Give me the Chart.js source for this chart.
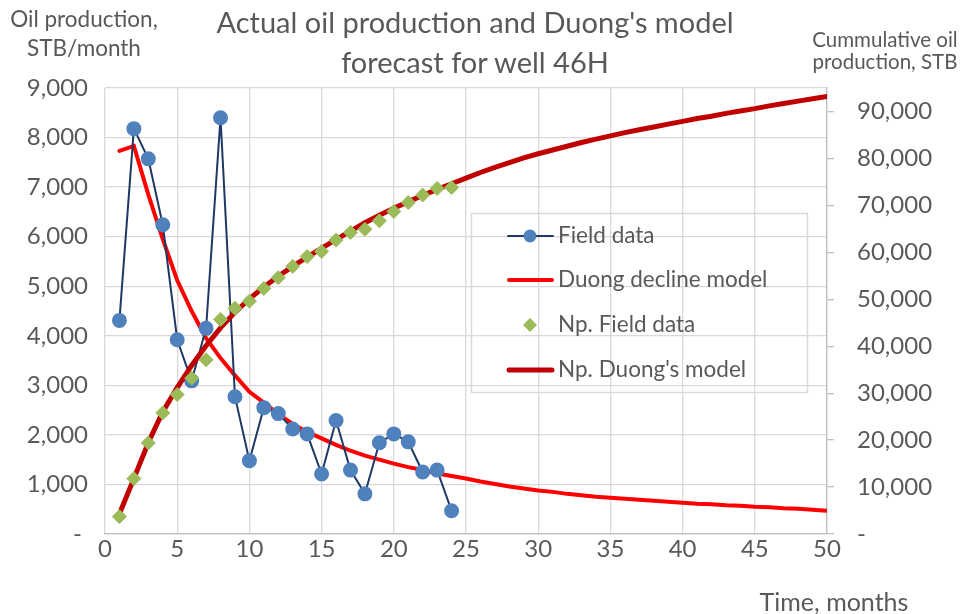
<!DOCTYPE html>
<html>
<head>
<meta charset="utf-8">
<script src="https://cdn.jsdelivr.net/npm/chart.js@4.4.1/dist/chart.umd.min.js"></script>
<style>
  html, body { margin: 0; padding: 0; background: #fff; }
  #wrap { position: relative; width: 962px; height: 614px; font-family: Lato, sans-serif; color: #595959; }
  #chart { position: absolute; left: 0; top: 0; }
  .lbl { position: absolute; text-align: center; white-space: nowrap; }
  #title { left: 125px; width: 700px; top: 2px; font-size: 29px; line-height: 40px; }
  #ytitle { left: 0; width: 168px; top: 4px; font-size: 22.5px; line-height: 29px; }
  #y2title { left: 804px; width: 162px; top: 28px; font-size: 20.5px; line-height: 22px; }
  #xtitle { left: 734px; width: 200px; top: 587px; font-size: 25px; line-height: 28px; }
</style>
</head>
<body>
<div id="wrap">
  <canvas id="chart" width="962" height="614"></canvas>
  <div class="lbl" id="title">Actual oil production and Duong's model<br>forecast for well 46H</div>
  <div class="lbl" id="ytitle">Oil production,<br>STB/month</div>
  <div class="lbl" id="y2title">Cummulative oil<br>production, STB</div>
  <div class="lbl" id="xtitle">Time, months</div>
</div>
<script>
// ---- data ----
const months = [1, 2, 3, 4, 5, 6, 7, 8, 9, 10, 11, 12, 13, 14, 15, 16, 17, 18, 19, 20,
                21, 22, 23, 24, 25, 26, 27, 28, 29, 30, 31, 32, 33, 34, 35, 36, 37, 38, 39, 40,
                41, 42, 43, 44, 45, 46, 47, 48, 49, 50];

// monthly oil rate, STB/month (left axis)
const fieldRate = [4310, 8180, 7570, 6240, 3920, 3090, 4150, 8400, 2770, 1480,
                   2550, 2430, 2120, 2020, 1210, 2290, 1290, 810, 1840, 2020,
                   1860, 1250, 1290, 470];
const duongRate = [7730, 7830, 6850, 5950, 5120, 4500, 3950, 3550, 3200, 2870,
                   2650, 2420, 2220, 2060, 1930, 1800, 1680, 1580, 1500, 1420,
                   1350, 1290, 1220, 1170, 1120, 1060, 1010, 960, 920, 880,
                   850, 810, 780, 750, 730, 710, 690, 670, 650, 630,
                   610, 600, 580, 570, 550, 540, 520, 510, 490, 470];

// cumulative production, STB (right axis)
const npField = [3700, 11800, 19400, 25800, 29700, 33200, 37100, 45700, 48100, 49600,
                 52300, 54600, 57000, 59100, 60200, 62600, 64200, 64900, 66700, 68700,
                 70600, 72200, 73600, 73800];
const npDuong = [4300, 11800, 19500, 26000, 31200, 35900, 40100, 43900, 47200, 50100,
                 52600, 54900, 57000, 59000, 60900, 62700, 64500, 66300, 67900, 69400,
                 70800, 72100, 73400, 74600, 75800, 77000, 78100, 79100, 80100, 81000,
                 81800, 82600, 83400, 84100, 84800, 85500, 86100, 86700, 87300, 87900,
                 88500, 89000, 89600, 90100, 90600, 91200, 91700, 92200, 92700, 93200];

const xTicks = [0, 5, 10, 15, 20, 25, 30, 35, 40, 45, 50];
const y2Ticks = [0, 10000, 20000, 30000, 40000, 50000, 60000, 70000, 80000, 90000];

const colors = {
    text: '#595959',
    grid: '#D9D9D9',
    axis: '#BFBFBF',
    navy: '#1F3864',
    blue: '#4F81BD',
    red: '#FF0000',
    green: '#9BBB59',
    darkRed: '#C00000'
};

const toXY = (vals) => vals.map((v, i) => ({ x: months[i], y: v }));
const fmt = (v) => v.toLocaleString('en-US');

// legend drawn inside the plot, as in the reference
const boxLegend = {
    id: 'boxLegend',
    afterDraw(chart) {
        const ctx = chart.ctx;
        ctx.save();
        ctx.strokeStyle = colors.grid;
        ctx.lineWidth = 1.5;
        ctx.strokeRect(471.5, 213.5, 336, 179);

        const rows = [
            { y: 236, text: 'Field data', kind: 'lineDot' },
            { y: 280, text: 'Duong decline model', kind: 'red' },
            { y: 325, text: 'Np. Field data', kind: 'diamond' },
            { y: 370, text: "Np. Duong's model", kind: 'darkRed' }
        ];
        rows.forEach(r => {
            ctx.lineCap = 'round';
            if (r.kind === 'lineDot') {
                ctx.strokeStyle = colors.navy; ctx.lineWidth = 2;
                ctx.beginPath(); ctx.moveTo(508, r.y); ctx.lineTo(553, r.y); ctx.stroke();
                ctx.fillStyle = colors.blue;
                ctx.beginPath(); ctx.arc(530, r.y, 6.5, 0, Math.PI * 2); ctx.fill();
            } else if (r.kind === 'red' || r.kind === 'darkRed') {
                ctx.strokeStyle = r.kind === 'red' ? colors.red : colors.darkRed;
                ctx.lineWidth = r.kind === 'red' ? 4 : 5;
                ctx.beginPath(); ctx.moveTo(509, r.y); ctx.lineTo(552, r.y); ctx.stroke();
            } else {
                ctx.fillStyle = colors.green;
                ctx.beginPath();
                ctx.moveTo(530, r.y - 7); ctx.lineTo(537, r.y);
                ctx.lineTo(530, r.y + 7); ctx.lineTo(523, r.y);
                ctx.closePath(); ctx.fill();
            }
            ctx.fillStyle = colors.text;
            ctx.font = '22.5px Lato';
            ctx.textBaseline = 'middle';
            ctx.textAlign = 'left';
            ctx.fillText(r.text, 558, r.y);
        });
        ctx.restore();
    }
};

Chart.defaults.font.family = 'Lato';
Chart.defaults.color = colors.text;

new Chart(document.getElementById('chart'), {
    type: 'line',
    data: {
        datasets: [
            {
                label: 'Np. Field data',
                data: toXY(npField),
                yAxisID: 'y1',
                showLine: false,
                pointStyle: 'rectRot',
                pointRadius: 7,
                backgroundColor: colors.green,
                borderColor: colors.green,
                order: 0
            },
            {
                label: "Np. Duong's model",
                data: toXY(npDuong),
                yAxisID: 'y1',
                borderColor: colors.darkRed,
                borderWidth: 5,
                borderCapStyle: 'round',
                pointRadius: 0,
                order: 1
            },
            {
                label: 'Field data',
                data: toXY(fieldRate),
                yAxisID: 'y',
                borderColor: colors.navy,
                borderWidth: 2,
                pointRadius: 6.5,
                pointBackgroundColor: colors.blue,
                pointBorderColor: colors.blue,
                order: 2
            },
            {
                label: 'Duong decline model',
                data: toXY(duongRate),
                yAxisID: 'y',
                borderColor: colors.red,
                borderWidth: 4,
                borderCapStyle: 'round',
                pointRadius: 0,
                order: 3
            }
        ]
    },
    options: {
        responsive: false,
        animation: false,
        devicePixelRatio: 1,
        layout: { padding: { top: 88, left: 0, right: 0, bottom: 0 } },
        plugins: { legend: { display: false }, tooltip: { enabled: false } },
        scales: {
            x: {
                type: 'linear',
                min: 0,
                max: 50,
                afterBuildTicks: (s) => { s.ticks = xTicks.map(v => ({ value: v })); },
                afterFit: (s) => { s.height = 80; },
                grid: { color: colors.grid, lineWidth: 1.3, drawTicks: false },
                border: { color: colors.axis, width: 1.3 },
                ticks: { font: { size: 24 }, padding: 1, maxRotation: 0 }
            },
            y: {
                position: 'left',
                min: 0,
                max: 9000,
                afterFit: (s) => { s.width = 105; },
                grid: { color: colors.grid, lineWidth: 1.3, drawTicks: false },
                border: { display: false },
                ticks: {
                    stepSize: 1000,
                    font: { size: 24 },
                    padding: 17,
                    callback: (v) => v === 0 ? '- ' : fmt(v)
                }
            },
            y1: {
                position: 'right',
                min: 0,
                max: 95000,
                afterBuildTicks: (s) => { s.ticks = y2Ticks.map(v => ({ value: v })); },
                afterFit: (s) => { s.width = 135; },
                grid: { drawOnChartArea: false, color: colors.axis, tickLength: 7, lineWidth: 1.3 },
                border: { color: colors.axis, width: 1.3 },
                ticks: {
                    font: { size: 24 },
                    padding: 23,
                    callback: (v) => v === 0 ? '-' : fmt(v)
                }
            }
        }
    },
    plugins: [boxLegend]
});
</script>
</body>
</html>
